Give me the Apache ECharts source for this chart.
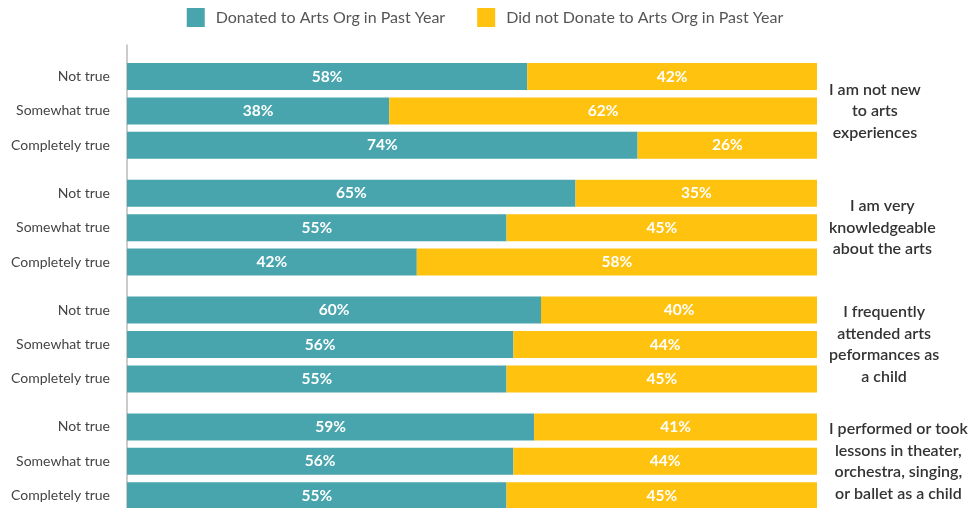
<!DOCTYPE html>
<html><head><meta charset="utf-8">
<script src="https://cdn.jsdelivr.net/npm/echarts@6/dist/echarts.min.js"></script>
<style>html,body{margin:0;padding:0;background:#fff;overflow:hidden}#c{width:970px;height:520px}</style>
</head><body><div id="c"></div>
<script>
const categories = ['Not true', 'Somewhat true', 'Completely true'];
const groupLabels = [
  'I am not new\nto arts\nexperiences',
  'I am very\nknowledgeable\nabout the arts',
  'I frequently\nattended arts\npeformances as\na child',
  'I performed or took\nlessons in theater,\norchestra, singing,\nor ballet as a child'
];
const seriesNames = ['Donated to Arts Org in Past Year', 'Did not Donate to Arts Org in Past Year'];
const donated    = [[58, 38, 74], [65, 55, 42], [60, 56, 55], [59, 56, 55]];
const notDonated = [[42, 62, 26], [35, 45, 58], [40, 44, 45], [41, 44, 45]];

const colors = ['#48A5AD', '#FFC20E'];
const FONT = 'Lato';
const left = 127, right = 153;
const band = 34.4, groupPitch = 116.8, firstTop = 59.3;
const labelFont = '600 16px ' + FONT;
const blockLeft = 829;

const ctx = document.createElement('canvas').getContext('2d');
ctx.font = labelFont;

const grids = [], xAxes = [], yAxes = [], series = [], graphics = [];
groupLabels.forEach((g, i) => {
  const top = firstTop + i * groupPitch;
  grids.push({left: left, right: right, top: top, height: band * 3});
  xAxes.push({type: 'value', gridIndex: i, min: 0, max: 100, show: false});
  yAxes.push({type: 'category', gridIndex: i, data: categories, inverse: true,
    axisLine: {show: false}, axisTick: {show: false},
    axisLabel: {color: '#444', fontFamily: FONT, fontSize: 14, margin: 17}});
  [donated, notDonated].forEach((arr, s) => {
    series.push({type: 'bar', name: seriesNames[s], stack: 'g' + i, xAxisIndex: i, yAxisIndex: i,
      data: arr[i], barWidth: 27, itemStyle: {color: colors[s]},
      label: {show: true, position: 'inside', formatter: '{c}%', color: '#fff',
        fontFamily: FONT, fontWeight: 'bold', fontSize: 15.5}});
  });
  const lines = g.split('\n');
  const maxW = Math.max(...lines.map(l => ctx.measureText(l).width));
  graphics.push({type: 'text', x: blockLeft + maxW / 2, y: top + band * 1.5,
    style: {text: g, fill: '#333', font: labelFont, textAlign: 'center',
      textVerticalAlign: 'middle', lineHeight: 21.5}});
});
// axis line spanning all groups
grids.push({left: left, right: right, top: 45, bottom: 0});
xAxes.push({type: 'value', gridIndex: 4, show: false});
yAxes.push({type: 'category', gridIndex: 4, data: [''], axisLine: {show: true, lineStyle: {color: '#bbb', width: 1.5}},
  axisTick: {show: false}, axisLabel: {show: false}});

const chart = echarts.init(document.getElementById('c'));
chart.setOption({
  animation: false,
  legend: {top: 3, left: 'center', itemWidth: 18, itemHeight: 19, itemGap: 32, icon: 'rect',
    data: seriesNames,
    textStyle: {color: '#555', fontFamily: FONT, fontSize: 16, padding: [0, 0, 0, 6]}},
  grid: grids, xAxis: xAxes, yAxis: yAxes, series: series, graphic: graphics
});
</script></body></html>
